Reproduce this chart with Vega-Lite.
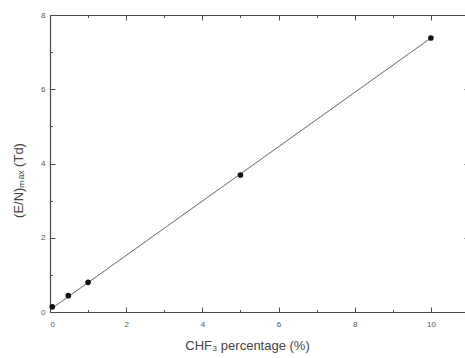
{
  "$schema": "https://vega.github.io/schema/vega-lite/v6.json",
  "width": 419,
  "height": 297,
  "autosize": "none",
  "padding": {"left": 50, "top": 15, "right": 0, "bottom": 46},
  "background": "white",
  "config": {
    "view": {"stroke": null},
    "axis": {
      "domainColor": "#4a4a4a",
      "domainWidth": 1.2,
      "tickColor": "#4a4a4a",
      "tickWidth": 1,
      "labelColor": "#555555",
      "titleColor": "#444444",
      "labelFont": "Liberation Sans",
      "titleFont": "Liberation Sans",
      "labelFontSize": 8,
      "titleFontSize": 13,
      "titleFontWeight": "normal",
      "grid": false
    }
  },
  "datasets": {
    "pts": [
      {"x": 0.06, "y": 0.14},
      {"x": 0.48, "y": 0.44},
      {"x": 1.0, "y": 0.8},
      {"x": 5.0, "y": 3.69},
      {"x": 10.0, "y": 7.38}
    ],
    "fit": [
      {"x": 0.0, "y": 0.06},
      {"x": 10.0, "y": 7.38}
    ]
  },
  "layer": [
    {
      "data": {"name": "fit"},
      "mark": {"type": "line", "color": "#666666", "strokeWidth": 1},
      "encoding": {
        "x": {
          "field": "x", "type": "quantitative",
          "scale": {"domain": [0, 11], "nice": false, "zero": false},
          "axis": {
            "orient": "bottom",
            "values": [0, 1, 2, 3, 4, 5, 6, 7, 8, 9, 10],
            "tickSize": {"condition": {"test": "datum.value % 2 === 0", "value": -5}, "value": -2.5},
            "labelExpr": "datum.value % 2 === 0 ? datum.label : ''",
            "labelPadding": 13,
            "title": "CHF₃ percentage (%)",
            "titleX": 197,
            "titleY": 27
          }
        },
        "y": {
          "field": "y", "type": "quantitative",
          "scale": {"domain": [0, 8], "nice": false, "zero": false},
          "axis": {
            "orient": "left",
            "values": [0, 1, 2, 3, 4, 5, 6, 7, 8],
            "tickSize": {"condition": {"test": "datum.value % 2 === 0", "value": -5}, "value": -2.5},
            "labelExpr": "datum.value % 2 === 0 ? datum.label : ''",
            "labelPadding": 10,
            "title": "(E/N)ₘₐₓ (Td)",
            "titleX": -25,
            "titleY": 165
          }
        }
      }
    },
    {
      "data": {"name": "pts"},
      "mark": {"type": "circle", "color": "#111111", "size": 32, "opacity": 1},
      "encoding": {
        "x": {
          "field": "x", "type": "quantitative",
          "axis": {
            "orient": "top",
            "values": [0, 1, 2, 3, 4, 5, 6, 7, 8, 9, 10],
            "tickSize": {"condition": {"test": "datum.value % 2 === 0", "value": -5}, "value": -2.5},
            "labels": false,
            "title": null
          }
        },
        "y": {
          "field": "y", "type": "quantitative",
          "axis": {
            "orient": "right",
            "values": [0, 1, 2, 3, 4, 5, 6, 7, 8],
            "tickSize": {"condition": {"test": "datum.value % 2 === 0", "value": -5}, "value": -2.5},
            "labels": false,
            "title": null
          }
        }
      }
    }
  ],
  "resolve": {"axis": {"x": "independent", "y": "independent"}}
}
